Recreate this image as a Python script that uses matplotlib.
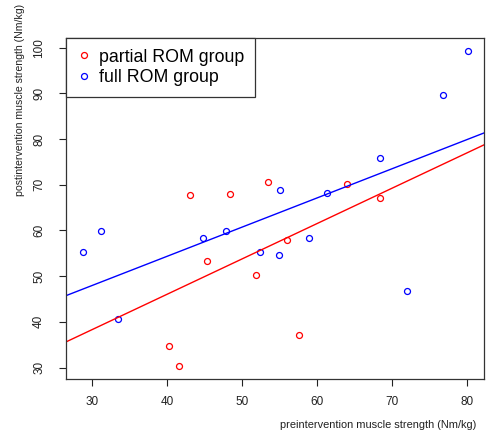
import matplotlib
matplotlib.use("Agg")
import matplotlib.pyplot as plt

plt.rcParams['font.family'] = ['Liberation Sans', 'DejaVu Sans']

# partial ROM group
partial_pre = [43.0, 48.3, 53.4, 63.9, 68.3, 55.9, 45.3, 51.8, 57.5, 40.2, 41.5]
partial_post = [67.8, 68.0, 70.6, 70.2, 67.1, 57.9, 53.3, 50.3, 37.1, 34.7, 30.4]

# full ROM group
full_pre = [80.1, 76.7, 68.4, 55.0, 61.3, 31.1, 47.8, 28.7, 44.8, 58.9, 52.4, 54.9, 72.0, 33.4]
full_post = [99.3, 89.7, 75.9, 68.8, 68.1, 59.8, 59.8, 55.2, 58.3, 58.3, 55.2, 54.6, 46.8, 40.6]

# fitted lines: intercept, slope
partial_fit = (15.1, 0.774)
full_fit = (28.8, 0.639)

x_ticks = [30, 40, 50, 60, 70, 80]
y_ticks = [30, 40, 50, 60, 70, 80, 90, 100]

fig = plt.figure(figsize=(4.92, 4.32), dpi=100)
ax = fig.add_axes([66/492, 53/432, 418/492, 341/432])

ax.plot(partial_pre, partial_post, 'o', mfc='none', mec='red', ms=4.3, mew=0.9,
        label='partial ROM group')
ax.plot(full_pre, full_post, 'o', mfc='none', mec='blue', ms=4.3, mew=0.9,
        label='full ROM group')

ax.axline((0, partial_fit[0]), slope=partial_fit[1], color='red', lw=1)
ax.axline((0, full_fit[0]), slope=full_fit[1], color='blue', lw=1)

ax.set_xlim(26.5, 82.2)
ax.set_ylim(27.5, 102.1)
ax.set_xticks(x_ticks)
ax.set_yticks(y_ticks)
ax.tick_params(direction='out', length=5, width=0.8, labelsize=8.5, colors='#222222')
ax.tick_params(axis='x', pad=7)
ax.tick_params(axis='y', pad=10)
for lab in ax.get_yticklabels():
    lab.set_rotation(90)
    lab.set_va('center')
for s in ax.spines.values():
    s.set_color('#333333')
    s.set_linewidth(0.9)

ax.set_xlabel('preintervention muscle strength (Nm/kg)', fontsize=7.9, color='#222222')
ax.xaxis.set_label_coords((378 - 66) / 418, -(420 - 379) / 341)
ax.set_ylabel('postintervention muscle strength (Nm/kg)', fontsize=7.6, color='#222222')
ax.yaxis.set_label_coords(-(66 - 25) / 418, (379 - 100) / 341)

leg = ax.legend(loc='upper left', bbox_to_anchor=(0, 1), borderaxespad=0,
                fancybox=False, edgecolor='#333333', fontsize=12.8,
                handlelength=0.8, handletextpad=0.45, borderpad=0.6,
                labelspacing=0.2, framealpha=1)
leg.get_frame().set_linewidth(0.9)

fig.savefig('out.png', dpi=100)
